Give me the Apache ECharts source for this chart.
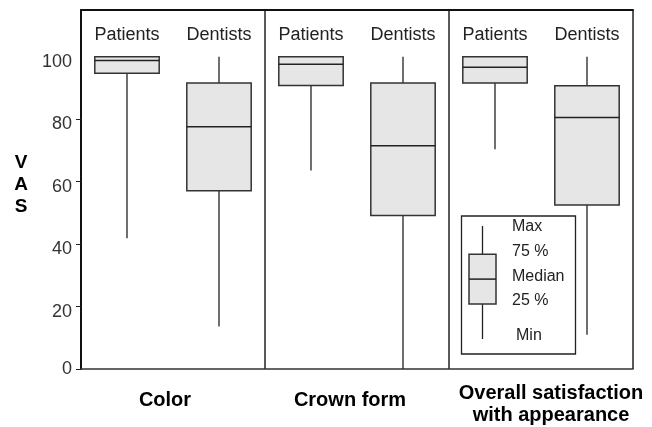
<!DOCTYPE html>
<html>
<head>
<meta charset="utf-8">
<script src="https://cdn.jsdelivr.net/npm/echarts@6/dist/echarts.min.js"></script>
<style>html,body{margin:0;padding:0;background:#fff;}#c{width:652px;height:427px;}</style>
</head>
<body>
<div id="c"></div>
<script>
// ---- data ----
const groupLabels = ['Color', 'Crown form', 'Overall satisfaction\nwith appearance'];
const raterLabels = ['Patients', 'Dentists', 'Patients', 'Dentists', 'Patients', 'Dentists'];
const minValues    = [41.9, 13.6, 63.6, 0.0, 70.4, 11.0];
const q1Values     = [94.7, 57.1, 90.8, 49.2, 91.6, 52.5];
const medianValues = [98.8, 77.6, 97.6, 71.5, 96.7, 80.6];
const q3Values     = [100, 91.6, 100, 91.6, 100, 90.7];
const maxValues    = [100, 100, 100, 100, 100, 100];
const yLabelValues = [0, 20, 40, 60, 80, 100];
const yTickValues  = [0, 20, 40, 60, 80];
const keyStats  = [0, 31, 53, 75, 100];          // min, q1, median, q3, max (legend key)
const keyLabels = ['Min', '25 %', 'Median', '75 %', 'Max'];

const boxData = raterLabels.map((_, i) => [i, minValues[i], q1Values[i], medianValues[i], q3Values[i], maxValues[i]]);

function makeBoxRenderer(widthRatio, withLabels) {
  return function (params, api) {
    const x = api.value(0);
    const pMin = api.coord([x, api.value(1)]);
    const pQ1 = api.coord([x, api.value(2)]);
    const pMed = api.coord([x, api.value(3)]);
    const pQ3 = api.coord([x, api.value(4)]);
    const pMax = api.coord([x, api.value(5)]);
    const w = api.size([1, 0])[0] * widthRatio;
    const cx = pMed[0];
    const children = [
      { type: 'line', shape: { x1: cx, y1: pMin[1], x2: cx, y2: pMax[1] },
        style: { stroke: '#222', lineWidth: 1.3 } },
      { type: 'rect', shape: { x: cx - w / 2, y: pQ3[1], width: w, height: pQ1[1] - pQ3[1] },
        style: { fill: '#e6e6e6', stroke: '#333', lineWidth: 1.5 } },
      { type: 'line', shape: { x1: cx - w / 2, y1: pMed[1], x2: cx + w / 2, y2: pMed[1] },
        style: { stroke: '#222', lineWidth: 1.5 } }
    ];
    if (withLabels) {
      const pts = [pMin, pQ1, pMed, pQ3, pMax];
      pts.forEach((p, k) => {
        children.push({ type: 'text', x: cx + w / 2 + 16 + (k === 0 ? 4 : 0), y: p[1] - (k === 4 ? -1 : 3),
          style: { text: keyLabels[k], fill: '#222', font: '16px "Liberation Sans", Arial, sans-serif',
                   textVerticalAlign: 'middle', textAlign: 'left' } });
      });
    }
    return { type: 'group', children: children };
  };
}

const chart = echarts.init(document.getElementById('c'), null, { renderer: 'canvas' });
chart.setOption({
  backgroundColor: '#fff',
  animation: false,
  textStyle: { fontFamily: '"Liberation Sans", Arial, sans-serif' },
  grid: [
    { left: 81, right: 19, top: 10, bottom: 58, outerBoundsMode: 'none', containLabel: false },
    { left: 469, width: 27, top: 226, bottom: 88, outerBoundsMode: 'none', containLabel: false }
  ],
  xAxis: [
    { type: 'category', gridIndex: 0, position: 'top', data: raterLabels, boundaryGap: true,
      axisLine: { show: true, onZero: false, lineStyle: { color: '#111', width: 2 } },
      axisTick: { show: false },
      axisLabel: { inside: true, margin: 25, verticalAlign: 'middle', fontSize: 18, color: '#222' },
      splitLine: { show: false } },
    { type: 'category', gridIndex: 0, position: 'bottom', boundaryGap: true,
      data: [
        { value: groupLabels[0], textStyle: { padding: [7, 16, 0, 0] } },
        { value: groupLabels[1], textStyle: { padding: [7, 14, 0, 0] } },
        { value: groupLabels[2], textStyle: { padding: [0, 0, 0, 20] } }
      ],
      axisLine: { show: true, onZero: false, lineStyle: { color: '#333', width: 1.5 } },
      axisTick: { show: false },
      axisLabel: { margin: 13, fontSize: 20, fontWeight: 'bold', color: '#000', lineHeight: 22, interval: 0 },
      splitLine: { show: true, lineStyle: { color: '#222', width: 1.5 } } },
    { type: 'category', gridIndex: 1, data: ['key'], show: false }
  ],
  yAxis: [
    { type: 'value', gridIndex: 0, min: 0, max: 115, interval: 20,
      name: 'V\nA\nS\n{s|}', nameLocation: 'middle', nameRotate: 0, nameGap: 60,
      nameTextStyle: { fontSize: 19, fontWeight: 'bold', color: '#000', lineHeight: 22, align: 'center', verticalAlign: 'middle',
        rich: { s: { lineHeight: 10, fontSize: 8 } } },
      axisLine: { show: true, lineStyle: { color: '#111', width: 2 } },
      axisTick: { show: true, length: 5, customValues: yTickValues, lineStyle: { color: '#222', width: 1 } },
      axisLabel: { customValues: yLabelValues, margin: 9, fontSize: 18, color: '#333',
        formatter: v => (v === 0 ? '{a|' + v + '}' : '{b|' + v + '}'),
        rich: { a: { fontSize: 18, color: '#333' }, b: { fontSize: 18, color: '#333', padding: [10, 0, 0, 0] } } },
      splitLine: { show: false } },
    { type: 'value', gridIndex: 1, min: 0, max: 100, show: false }
  ],
  graphic: [
    { type: 'rect', z: 1, shape: { x: 461.5, y: 216, width: 114, height: 138 },
      style: { fill: '#fff', stroke: '#222', lineWidth: 1.3 } }
  ],
  series: [
    { type: 'custom', xAxisIndex: 0, yAxisIndex: 0, data: boxData,
      encode: { x: 0, y: [1, 2, 3, 4, 5] }, renderItem: makeBoxRenderer(0.7, false), z: 3 },
    { type: 'custom', xAxisIndex: 2, yAxisIndex: 1, data: [[0].concat(keyStats)],
      encode: { x: 0, y: [1, 2, 3, 4, 5] }, renderItem: makeBoxRenderer(1.0, true), z: 5, clip: false }
  ]
});
</script>
</body>
</html>
